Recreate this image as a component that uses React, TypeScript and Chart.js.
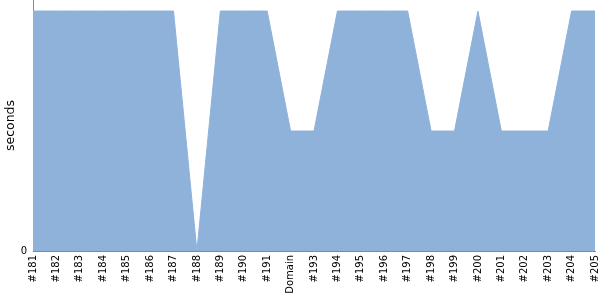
import React, { useEffect, useRef } from "react";
import { Chart, registerables } from "chart.js";

Chart.register(...registerables);

const labels = ["#181","#182","#183","#184","#185","#186","#187","#188","#189","#190","#191","Domain","#193","#194","#195","#196","#197","#198","#199","#200","#201","#202","#203","#204","#205"];
const seconds = [1,1,1,1,1,1,1,0,1,1,1,0.5,0.5,1,1,1,1,0.5,0.5,1,0.5,0.5,0.5,1,1];
const yTicks = [0];

export default function App() {
  const ref = useRef<HTMLCanvasElement>(null);
  useEffect(() => {
    document.body.style.margin = "0";
    const ctx = ref.current!;
    const chart = new Chart(ctx, {
      type: "line",
      data: {
        labels,
        datasets: [{
          data: seconds,
          fill: "origin",
          backgroundColor: "rgb(143,178,219)",
          borderColor: "rgb(143,178,219)",
          borderWidth: 1,
          pointRadius: 0,
          tension: 0,
        }],
      },
      options: {
        animation: false,
        responsive: false,
        maintainAspectRatio: false,
        layout: { padding: { left: 0, right: 5, top: 0, bottom: 0 } },
        plugins: { legend: { display: false }, tooltip: { enabled: false } },
        scales: {
          x: {
            grid: { display: false, drawTicks: false },
            border: { color: "#888", width: 1 },
            offset: false,
            ticks: {
              autoSkip: false,
              maxRotation: 90,
              minRotation: 90,
              padding: 4,
              color: "#000",
              font: { family: "DejaVu Sans", size: 10 },
            },
            afterFit: (s: any) => { s.height = 49; s.paddingLeft = 0; s.paddingRight = 0; },
          },
          y: {
            min: 0,
            max: 1.046,
            grid: { display: false, drawTicks: true, tickLength: 4, tickColor: "#888" },
            border: { color: "#888", width: 1 },
            afterBuildTicks: (s: any) => { s.ticks = yTicks.map((v) => ({ value: v })); },
            ticks: {
              padding: 2,
              color: "#000",
              font: { family: "DejaVu Sans", size: 10 },
            },
            title: {
              display: true,
              text: "seconds",
              color: "#000",
              font: { family: "DejaVu Sans", size: 12.5 },
              padding: { top: 3, bottom: 2 },
            },
            afterFit: (s: any) => { s.width = 33; s.paddingTop = 0; s.paddingBottom = 0; },
          },
        },
      },
    });
    return () => chart.destroy();
  }, []);
  return (
    <div style={{ width: 600, height: 300 }}>
      <canvas ref={ref} width={600} height={300} style={{ width: 600, height: 300, display: "block" }} />
    </div>
  );
}
